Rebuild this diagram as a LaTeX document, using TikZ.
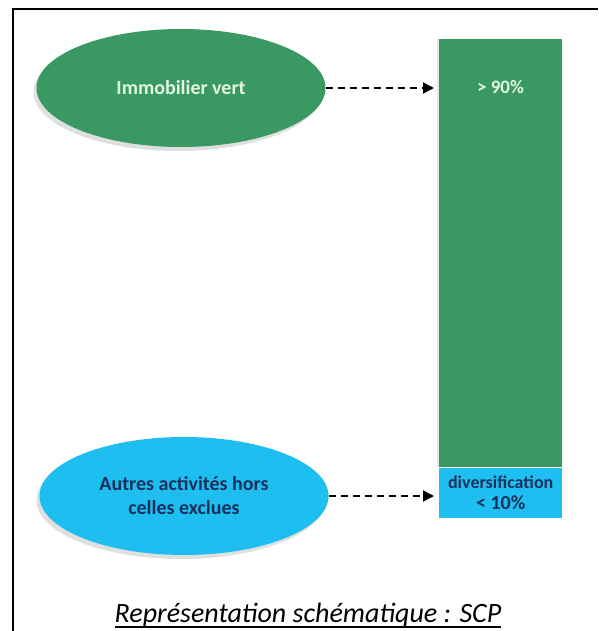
\documentclass[tikz,border=0pt]{standalone}
\usepackage{fontspec}
\setmainfont{Carlito}
\usetikzlibrary{arrows.meta,shapes.geometric,shadows}
\definecolor{vertimmo}{RGB}{58,153,98}
\definecolor{bleuautre}{RGB}{30,190,240}
\definecolor{marine}{RGB}{22,50,92}
\definecolor{menthe}{RGB}{226,246,228}
\begin{document}
\begin{tikzpicture}[x=1pt,y=-1pt,
    bulle/.style={ellipse, minimum width=289pt, minimum height=118pt, inner sep=0pt, align=center,
        font=\bfseries\fontsize{20}{24}\selectfont,
        drop shadow={shadow xshift=-3pt, shadow yshift=-4pt, opacity=.25}},
    barre/.style={rectangle, minimum width=123pt, inner sep=0pt, align=center,
        font=\bfseries\fontsize{18}{21}\selectfont},
    fleche/.style={dash pattern=on 7pt off 5pt, line width=2pt, -{Triangle[length=11pt,width=11pt]}, shorten >=5pt}]
    \useasboundingbox (0,0) rectangle (598,631);
    % cadre
    \draw[line width=2pt] (13,631) -- (13,9) -- (598,9);
    % bulles
    \node[bulle, fill=vertimmo, text=menthe] (immo) at (181,88) {Immobilier vert};
    \node[bulle, fill=bleuautre, text=marine] (autres) at (184,496) {Autres activités hors\\celles exclues};
    % barre
    \node[barre, fill=vertimmo, minimum height=428pt, anchor=north west,
        drop shadow={shadow xshift=-2pt, shadow yshift=0pt, opacity=.2}] (haut) at (439,39) {};
    \node[barre, fill=bleuautre, text=marine, minimum height=50pt, anchor=north] (bas) at (haut.south) {diversification\\{\fontsize{20}{21}\selectfont< 10\%}};
    \node[font=\bfseries\fontsize{19}{22}\selectfont, text=menthe] (pct) at (500.5,87) {> 90\%};
    % fleches
    \draw[fleche] (immo.east) -- (immo.east -| haut.west);
    \draw[fleche] (autres.east) -- (autres.east -| bas.west);
    % legende
    \node[font=\itshape\fontsize{28}{32}\selectfont, inner sep=0pt, anchor=base] (legende) at (308,622) {Représentation schématique : SCP};
    \draw[line width=1.6pt] ([yshift=-5pt]legende.base west) -- ([yshift=-5pt]legende.base east);
\end{tikzpicture}
\end{document}
